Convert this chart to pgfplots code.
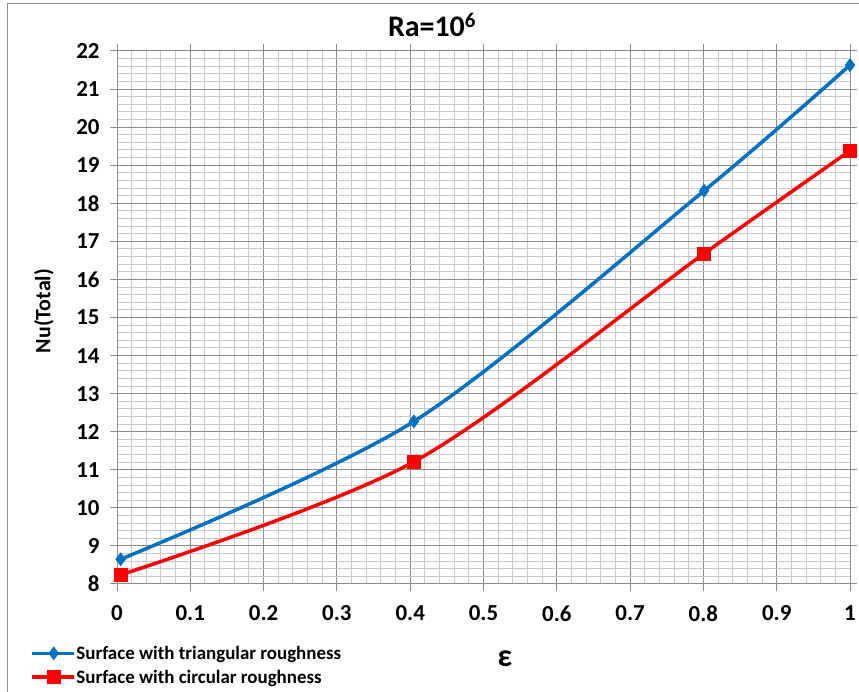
\documentclass[border=0pt]{standalone}
\usepackage{fontspec}
\setmainfont{Carlito}
\usepackage{pgfplots}
\pgfplotsset{compat=1.18}
\definecolor{exblue}{RGB}{0,112,192}
\definecolor{exred}{RGB}{255,0,0}
\definecolor{majgrid}{RGB}{140,140,140}
\definecolor{mingrid}{RGB}{200,200,200}
\begin{document}
\begin{tikzpicture}[x=1bp,y=1bp]
\useasboundingbox (0,0) rectangle (859,692);
\fill[white] (0,0) rectangle (859,692);
\draw[majgrid, line width=1bp] (7,0) -- (7,688) -- (859,688);
\begin{axis}[
  at={(117bp,108bp)}, anchor=south west,
  scale only axis, width=733bp, height=533bp,
  xmin=0, xmax=1, ymin=8, ymax=22,
  xtick={0,0.1,...,1.01}, ytick={8,9,...,22},
  minor x tick num=4, minor y tick num=4,
  xticklabels={0,0.1,0.2,0.3,0.4,0.5,0.6,0.7,0.8,0.9,1},
  grid=both,
  major grid style={majgrid, line width=1bp},
  minor grid style={mingrid, line width=1bp},
  axis line style={majgrid, line width=1bp},
  tick align=outside, major tick length=7bp, minor tick length=0pt,
  major tick style={majgrid, line width=1bp},
  tick label style={font=\fontsize{23}{27}\selectfont\bfseries},
  yticklabel style={xshift=-7bp},
  xticklabel style={yshift=-11bp},
  /pgf/number format/assume math mode=true,
  legend style={at={(-0.119,-0.114)}, anchor=north west, draw=none, fill=none,
    font=\fontsize{19}{22}\selectfont\bfseries, inner sep=0pt, row sep=7bp,
    nodes={inner sep=1bp}},
  legend cell align=left,
  legend image code/.code={\draw[mark repeat=2, mark phase=2, #1] plot coordinates {(0bp,0bp) (22bp,0bp) (42bp,0bp)};},
]
\addplot[exblue, line width=3.5bp, smooth, tension=0.5, mark=diamond*, mark size=6.5bp, mark options={solid, fill=exblue, draw=exblue, line width=0.5bp}]
  coordinates {(0.005,8.65) (0.405,12.27) (0.801,18.33) (1.0,21.63)};
\addlegendentry{Surface with triangular roughness}
\addplot[exred, line width=3.5bp, smooth, tension=0.5, mark=square*, mark size=6.5bp, mark options={solid, fill=exred, draw=exred, line width=0.5bp}]
  coordinates {(0.005,8.24) (0.405,11.21) (0.801,16.68) (1.0,19.38)};
\addlegendentry{Surface with circular roughness}
\end{axis}
\node[font=\fontsize{30}{36}\selectfont\bfseries, anchor=base] at (432,655) {Ra=10\textsuperscript{6}};
\node[font=\fontsize{22}{26}\selectfont\bfseries, rotate=90] at (44,381) {Nu(Total)};
\node[font=\fontsize{32}{38}\selectfont\bfseries] at (505,33) {ε};
\end{tikzpicture}
\end{document}
